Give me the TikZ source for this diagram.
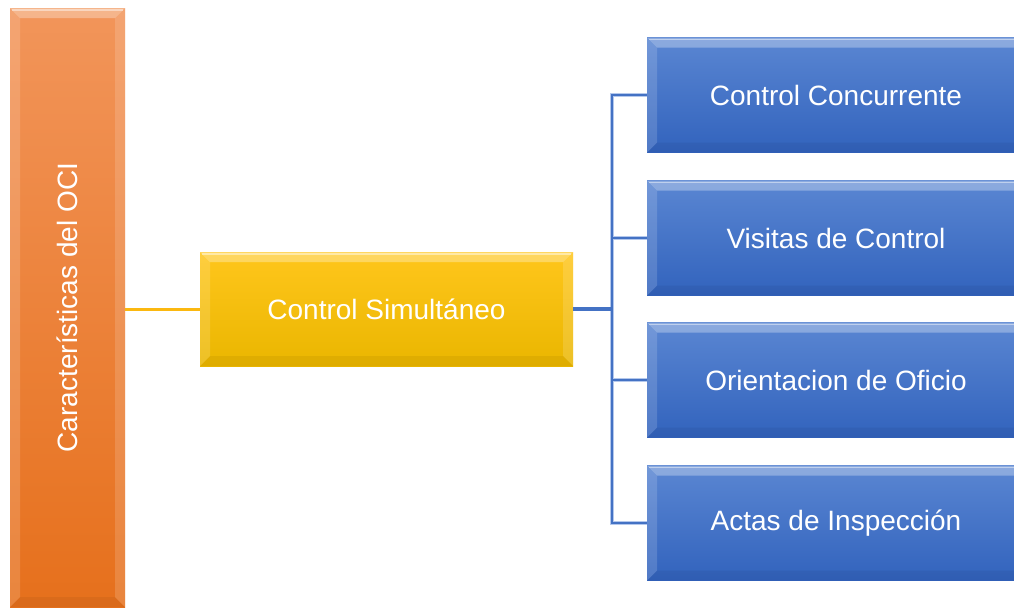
\documentclass[tikz,border=0pt]{standalone}
\usepackage{fontspec}
\usepackage{graphicx}
\setmainfont{Liberation Sans}
\usetikzlibrary{calc}
\definecolor{orTop}{HTML}{F2955A}
\definecolor{orBot}{HTML}{E6701C}
\definecolor{yeTop}{HTML}{FFC61C}
\definecolor{yeBot}{HTML}{EAB600}
\definecolor{blTop}{HTML}{5A86D2}
\definecolor{blBot}{HTML}{3263BD}
\definecolor{lnYellow}{HTML}{FBB810}
\definecolor{lnBlue}{HTML}{4472C4}
\definecolor{lnHalo}{HTML}{B4C8EC}
\tikzset{
  bevelbox/.style={draw=none, inner sep=0pt, text=white,
    font=\fontsize{28}{34}\selectfont,
    path picture={
      \coordinate (NW) at (path picture bounding box.north west);
      \coordinate (NE) at (path picture bounding box.north east);
      \coordinate (SW) at (path picture bounding box.south west);
      \coordinate (SE) at (path picture bounding box.south east);
      \fill[white,opacity=.3] (NW) -- (NE) -- ($(NE)+(-10,10)$) -- ($(NW)+(10,10)$) -- cycle;
      \fill[white,opacity=.15] (NW) -- ($(NW)+(10,10)$) -- ($(SW)+(10,-10)$) -- (SW) -- cycle;
      \fill[white,opacity=.15] (NE) -- (SE) -- ($(SE)+(-10,-10)$) -- ($(NE)+(-10,10)$) -- cycle;
      \fill[black,opacity=.05] (SW) -- ($(SW)+(10,-10)$) -- ($(SE)+(-10,-10)$) -- (SE) -- cycle;
      \draw[white,opacity=.45,line width=1.5pt] ($(NW)+(2,2)$) -- ($(NE)+(-2,2)$);
    }},
  orangebox/.style={bevelbox, top color=orTop, bottom color=orBot},
  yellowbox/.style={bevelbox, top color=yeTop, bottom color=yeBot},
  bluebox/.style={bevelbox, top color=blTop, bottom color=blBot,
    minimum width=378pt, minimum height=115pt},
  yline/.style={draw=lnYellow, line width=3pt},
  bhalo/.style={draw=lnHalo, line width=4.5pt},
  bline/.style={draw=lnBlue, line width=2.5pt},
  bthick/.style={draw=lnBlue, line width=4pt}
}
\begin{document}
\begin{tikzpicture}[x=1pt,y=-1pt]
\useasboundingbox (0,0) rectangle (1014,608);
\clip (0,0) rectangle (1014,608);
\fill[white] (0,0) rectangle (1014,608);

\node[orangebox, minimum width=115pt, minimum height=599pt] (oci) at (67.5,307.5)
  {\rotatebox{90}{Características del OCI}};
\node[yellowbox, minimum width=373pt, minimum height=114pt] (sim) at (386.5,309)
  {Control Simultáneo};
\node[bluebox] (b1) at (836,95) {Control Concurrente};
\node[bluebox] (b2) at (836,238) {Visitas de Control};
\node[bluebox] (b3) at (836,380) {Orientacion de Oficio};
\node[bluebox] (b4) at (836,523) {Actas de Inspección};

\coordinate (j) at (612,309);

\draw[yline] (sim.west -| oci.east) -- (sim.west);

\foreach \b in {b1,b2,b3,b4}{\draw[bhalo] (j) |- (\b.west);}
\foreach \b in {b1,b2,b3,b4}{\draw[bline] (j) |- (\b.west);}
\draw[bthick] (sim.east) -- (j);
\end{tikzpicture}
\end{document}
